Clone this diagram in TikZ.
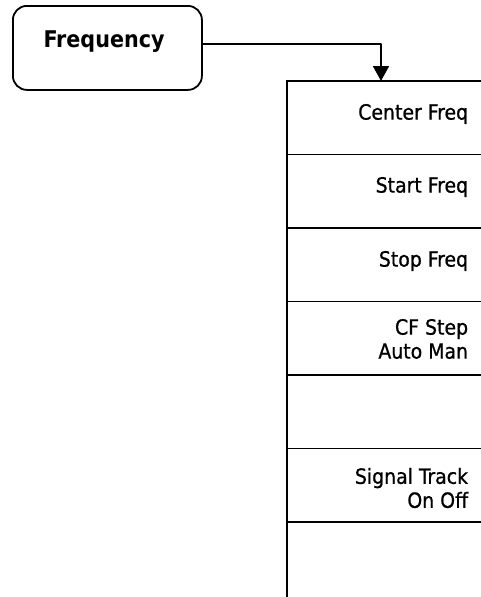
\documentclass[tikz,border=0pt]{standalone}
\usepackage{fontspec}
\setsansfont{DejaVu Sans Condensed}
\newfontfamily\menufont[FakeBold=0.8]{DejaVu Sans Condensed}
\usetikzlibrary{arrows.meta}
\begin{document}
\begin{tikzpicture}[x=1pt,y=-1pt,line width=1.8pt,
  menutext/.style={anchor=east,align=right,inner sep=0pt,font=\menufont\fontsize{21}{24}\selectfont},
  keybox/.style={draw,rounded corners=14pt,minimum width=189pt,minimum height=84pt,inner sep=0pt,anchor=north west},
  menuline/.style={line width=1.8pt}]
\useasboundingbox (0,0) rectangle (481,597);
% hardkey
\node[keybox] (freq) at (12,5) {};
\node[inner sep=0pt,font=\sffamily\bfseries\fontsize{23}{26}\selectfont] (freqlabel) at (104,42) {Frequency};
% menu frame
\coordinate (m0) at (287,81);
\coordinate (mr) at (481,81);
\coordinate (mb) at (287,597);
\draw[menuline] (mr) -- (m0) -- (mb);
\foreach \y [count=\i] in {154.5,228,301.5,375,448.5,522}{
  \coordinate (s\i) at (287,\y);
  \draw[menuline] (s\i) -- (481,\y);
}
% connector
\coordinate (arrowend) at (381,81);
\draw[line join=round,-{Triangle[width=16pt,length=15pt]}] ([yshift=4pt]freq.east) -| (arrowend);
% softkey labels
\node[menutext] (k1) at (469,114) {Center Freq};
\node[menutext] (k2) at (469,187) {Start Freq};
\node[menutext] (k3) at (469,261) {Stop Freq};
\node[menutext] (k4) at (469,339) {CF Step\\Auto Man};
\node[menutext] (k6) at (469,488) {Signal Track\\On Off};
\end{tikzpicture}
\end{document}
